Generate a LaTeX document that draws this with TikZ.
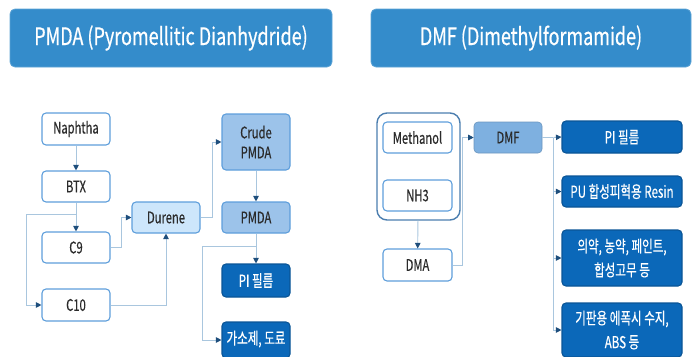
\documentclass[tikz,border=0pt]{standalone}
\usepackage{fontspec}
\setmainfont{Noto Sans CJK KR}[FakeStretch=0.70, FakeBold=0.4]
\newfontfamily\headfont{Noto Sans CJK KR}[FakeStretch=0.75, FakeBold=0.5]
\usetikzlibrary{arrows.meta}

\definecolor{titlefill}{HTML}{348CCB}
\definecolor{boxline}{HTML}{5E9EDB}
\definecolor{durfill}{HTML}{CDE6FB}
\definecolor{midfill}{HTML}{9CC3EA}
\definecolor{dmffill}{HTML}{7EB0E0}
\definecolor{darkfill}{HTML}{0B68B9}
\definecolor{darkline}{HTML}{0A5596}
\definecolor{wire}{HTML}{A9C6DE}
\definecolor{tip}{HTML}{1E4E7C}
\definecolor{ink}{HTML}{2B2B2B}

\tikzset{
  base/.style={rectangle, rounded corners=4pt, inner sep=0pt, align=center,
    font=\fontsize{16}{20}\selectfont, line width=1.1pt},
  lbox/.style={base, draw=boxline, fill=white, text=ink},
  durbox/.style={base, draw=boxline, fill=durfill, text=ink},
  midbox/.style={base, draw=boxline, fill=midfill, text=ink},
  dmfbox/.style={base, draw=dmffill!85!black, line width=0.6pt, fill=dmffill, text=ink},
  dbox/.style={base, draw=darkline, fill=darkfill, text=white,
    font=\fontsize{16.5}{24}\selectfont},
  titlebox/.style={rectangle, rounded corners=5pt, fill=titlefill, draw=titlefill!80!white,
    line width=0.8pt, text=white, font=\headfont\fontsize{24}{28}\selectfont},
  groupbox/.style={rectangle, rounded corners=10pt, draw=boxline!80!black, line width=1.4pt},
  conn/.style={draw=wire, line width=0.9pt, -{Triangle[length=5.5pt,width=5.5pt,color=tip]}},
  wireonly/.style={draw=wire, line width=0.9pt}
}

\begin{document}
\begin{tikzpicture}[x=1pt, y=-1pt]
\useasboundingbox (0,0) rectangle (692,356);
\clip (0,0) rectangle (692,356);

% headers
\node[titlebox, minimum width=322pt, minimum height=58pt] (tl) at (171,38) {PMDA (Pyromellitic Dianhydride)};
\node[titlebox, minimum width=320pt, minimum height=58pt] (tr) at (531,38) {DMF (Dimethylformamide)};

% PMDA chain
\node[lbox, minimum width=68pt, minimum height=32pt] (naph) at (76,129) {Naphtha};
\node[lbox, minimum width=68pt, minimum height=31pt] (btx) at (76,186.5) {BTX};
\node[lbox, minimum width=68pt, minimum height=31pt] (c9) at (76,247.5) {C9};
\node[lbox, minimum width=68pt, minimum height=32pt] (c10) at (76,305) {C10};
\node[durbox, minimum width=68pt, minimum height=31pt] (dur) at (166,217.5) {Durene};
\node[midbox, minimum width=68pt, minimum height=56pt] (crude) at (256,142) {Crude\\PMDA};
\node[midbox, minimum width=68pt, minimum height=31pt] (pmda) at (256,217.5) {PMDA};
\node[dbox, minimum width=68pt, minimum height=33pt] (pi1) at (256,280.5) {PI 필름};
\node[dbox, minimum width=68pt, minimum height=36pt] (gaso) at (256,340) {};
\node[text=white, font=\fontsize{16.5}{20}\selectfont] (gasot) at (256,339) {가소제, 도료};

\draw[conn] (naph) -- (btx);
\draw[conn] (btx) -- (c9);
\coordinate (bj) at (76,214);
\coordinate (bl) at (26,214);
\draw[conn] (bj) -- (bl) |- (c10.west);
\draw[conn] (c9.east) -- ++(11,0) |- (dur.west);
\draw[conn] (c10.east) -| (dur.south);
\draw[conn] (dur.east) -- ++(12,0) |- (crude.west);
\draw[conn] (crude) -- (pmda);
\draw[conn] (pmda) -- (pi1);
\coordinate (pj) at (256,246);
\draw[conn] (pj) -- (202,246) |- (gaso.west);

% DMF chain
\node[groupbox, minimum width=83pt, minimum height=107pt] (grp) at (418.5,166.5) {};
\node[lbox, minimum width=69pt, minimum height=31pt] (meth) at (417.5,137.5) {Methanol};
\node[lbox, minimum width=69pt, minimum height=31pt] (nh3) at (417.5,195.5) {NH3};
\node[lbox, minimum width=69pt, minimum height=32pt] (dma) at (417.5,265) {DMA};
\node[dmfbox, minimum width=68pt, minimum height=31pt] (dmf) at (508,137.5) {DMF};
\node[dbox, minimum width=120pt, minimum height=32pt] (pi2) at (622,137) {PI 필름};
\node[dbox, minimum width=120pt, minimum height=31pt] (pu) at (622,191.5) {PU 합성피혁용 Resin};
\node[dbox, minimum width=120pt, minimum height=56pt] (med) at (622,258) {의약, 농약, 페인트,\\합성고무 등};
\node[dbox, minimum width=120pt, minimum height=54pt] (sub) at (622,330) {기판용 에폭시 수지,\\ABS 등};

\draw[conn] (grp) -- (dma);
\draw[conn] (dma.east) -- ++(10,0) |- (dmf.west);
\draw[wireonly] (dmf.east) -- ++(11,0) coordinate (dj);
\draw[conn] (dj) -- (pi2.west);
\draw[conn] (dj) |- (pu.west);
\draw[conn] (dj) |- (med.west);
\draw[conn] (dj) |- (sub.west);
\end{tikzpicture}
\end{document}
